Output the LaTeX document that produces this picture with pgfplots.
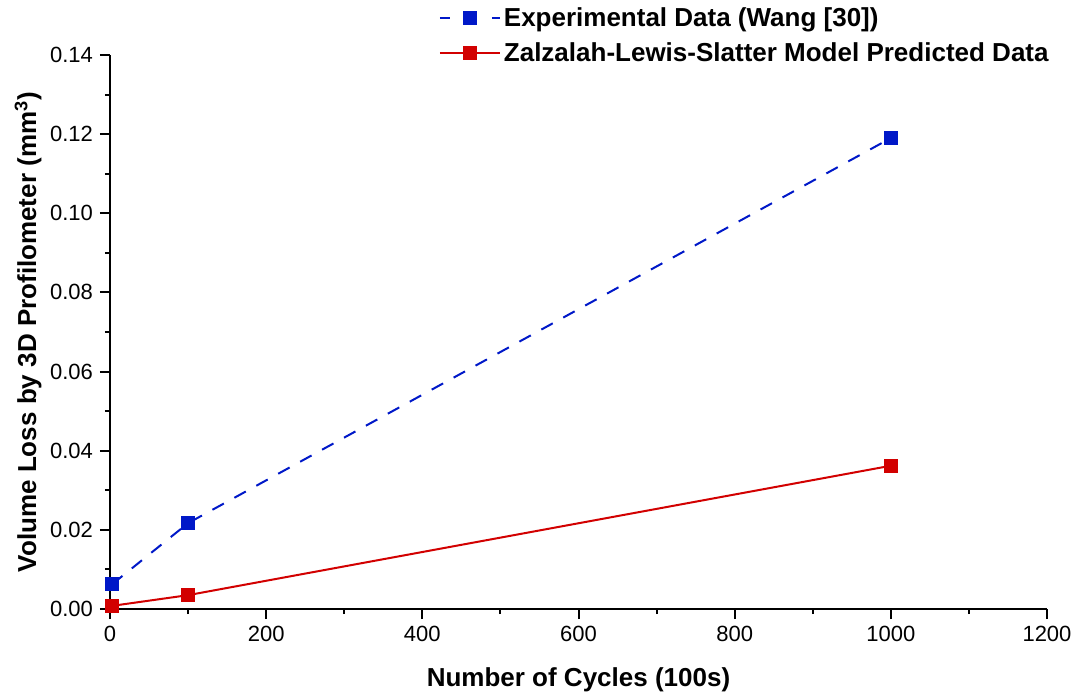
\documentclass[border=0pt]{standalone}
\usepackage{pgfplots}
\pgfplotsset{compat=1.18}
\usepackage{fontspec}
\setmainfont{Liberation Sans}
\definecolor{expblue}{RGB}{0,24,200}
\definecolor{modred}{RGB}{210,0,0}

% legend sample for the dashed series: short dash, square, short dash
\pgfplotsset{dashlegend/.style={legend image code/.code={%
    \draw[##1, mark=none, dash pattern=on 5pt off 21pt on 4pt]
      (0pt,0pt) -- (30pt,0pt);
    \draw[##1, only marks] plot coordinates {(15pt,0pt)};}}}

\begin{document}
\begin{tikzpicture}
\begin{axis}[
  at={(0,0)}, anchor=south west,
  scale only axis, width=468.5pt, height=277pt,
  xmin=0, xmax=1200, ymin=0, ymax=0.14,
  axis x line*=bottom, axis y line*=left,
  axis line style={line width=1pt, black},
  xtick={0,200,...,1200},
  ytick={0,0.02,...,0.14},
  minor x tick num=1, minor y tick num=1,
  tick align=outside,
  major tick length=5pt, minor tick length=2.5pt,
  tick style={line width=1pt, black},
  /pgf/number format/assume math mode=true,
  tick label style={font=\fontsize{11}{13}\selectfont},
  yticklabel style={/pgf/number format/.cd, fixed, fixed zerofill, precision=2},
  xticklabel style={/pgf/number format/.cd, fixed, 1000 sep={}},
  scaled y ticks=false,
  label style={font=\fontsize{13}{15}\selectfont\bfseries},
  xlabel={Number of Cycles (100s)},
  ylabel={Volume Loss by 3D Profilometer (mm$^{\mathbf{3}}$)},
  xlabel style={at={(axis description cs:0.5,-0.128)}, anchor=center},
  ylabel style={at={(axis description cs:-0.0875,0.5)}, anchor=center},
  legend style={draw=none, fill=none, at={(rel axis cs:1,1)}, anchor=north east,
    yshift=26pt, xshift=2.5pt, inner sep=0pt, row sep=2.5pt,
    font=\fontsize{13}{15}\selectfont\bfseries,
    nodes={inner xsep=1.5pt}},
  legend cell align=left,
  legend image code/.code={%
    \draw[mark repeat=2, mark phase=2, #1]
      plot coordinates {(0pt,0pt) (15pt,0pt) (30pt,0pt)};},
  clip=false,
]
\addplot[expblue, line width=1pt, dash pattern=on 6.5pt off 6pt,
  mark=square*, mark size=3pt, mark options={solid, fill=expblue}, dashlegend]
  coordinates {(3,0.0063) (100,0.0217) (1000,0.1190)};
\addlegendentry{Experimental Data (Wang [30])}
\addplot[modred, line width=1pt,
  mark=square*, mark size=3pt, mark options={solid, fill=modred}]
  coordinates {(3,0.0008) (100,0.0035) (1000,0.0362)};
\addlegendentry{Zalzalah-Lewis-Slatter Model Predicted Data}
\end{axis}
\pgfresetboundingbox
\path (-55pt,-43.5pt) rectangle (483.5pt,304.5pt);
\end{tikzpicture}
\end{document}
